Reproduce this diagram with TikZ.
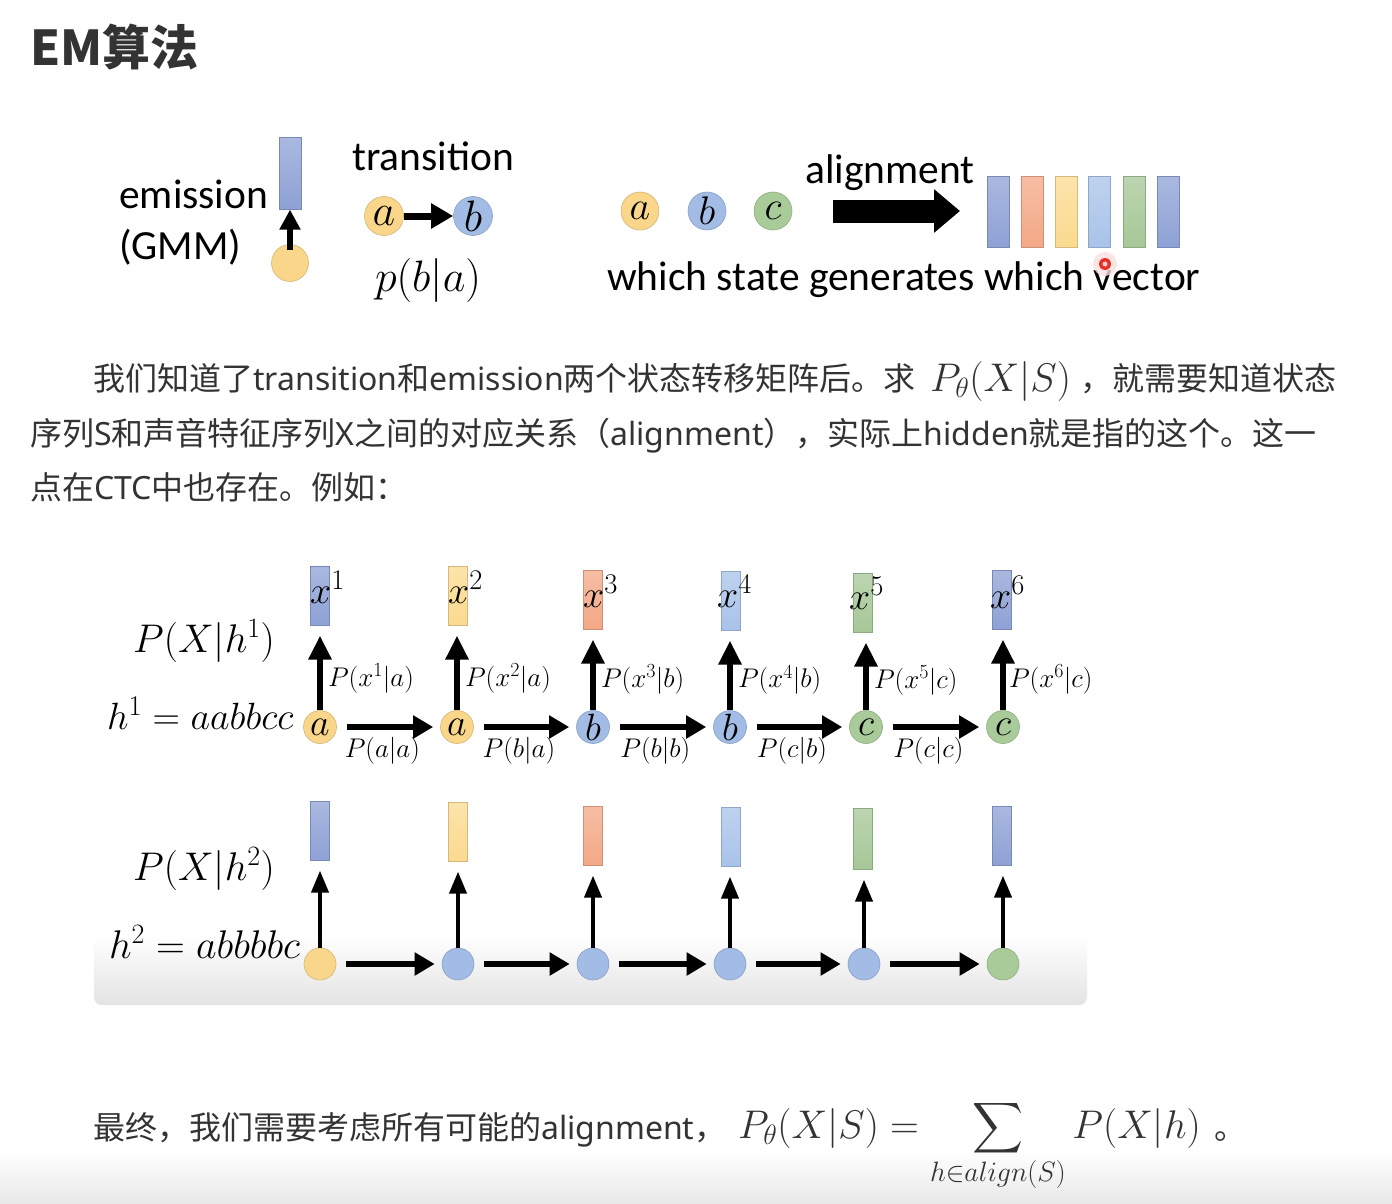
\RequirePackage{fix-cm}
\documentclass[tikz,border=0pt]{standalone}
\usepackage{amsmath}
\usepackage{graphicx}
\usepackage{fontspec}
\newfontfamily\cjk{Noto Sans CJK SC}
\newfontfamily\latf{Noto Sans}
\newfontfamily\figf{Carlito}
\usepackage{tikz}
\usetikzlibrary{arrows.meta,positioning}
\DeclareMathSizes{27}{27}{20}{15}
\DeclareMathSizes{38}{38}{28.5}{21}
\DeclareMathSizes{40}{40}{28}{20}
\DeclareMathSizes{44}{44}{33}{24}
\definecolor{txtgray}{HTML}{333333}
\definecolor{vblue}{HTML}{8EA1D5}
\definecolor{vsalmon}{HTML}{F3A886}
\definecolor{vyellow}{HTML}{FBDA8F}
\definecolor{vlblue}{HTML}{A8C3E9}
\definecolor{vgreen}{HTML}{A6C797}
\definecolor{syellow}{HTML}{F9D68A}
\definecolor{sblue}{HTML}{A2BCE5}
\definecolor{sgreen}{HTML}{A8CB99}
\definecolor{dotred}{HTML}{E8302A}
\newcommand{\bigsum}{\mathop{\vcenter{\hbox{\scalebox{1.42}{$\displaystyle\sum$}}}}\limits}

\begin{document}
\begin{tikzpicture}[
  x=1pt, y=-1pt,
  para/.style={anchor=base west, inner sep=0, text=txtgray, font=\cjk\fontsize{32}{38}\selectfont},
  figtxt/.style={anchor=base west, inner sep=0, font=\figf\fontsize{41.5}{48}\selectfont},
  lab/.style={anchor=base west, inner sep=0, font=\fontsize{40}{48}\selectfont},
  xlab/.style={anchor=base west, inner sep=0, font=\fontsize{38}{40}\selectfont},
  plab/.style={inner sep=2pt, font=\fontsize{27}{30}\selectfont},
  vec/.style={draw=#1!85!black, line width=0.6pt, top color=#1!75!white, bottom color=#1, minimum width=19pt, minimum height=59pt, inner sep=0, anchor=north},
  state/.style={circle, draw=#1!85!black, fill=#1, line width=0.6pt, minimum size=33pt, inner sep=0, font=\fontsize{38}{40}\selectfont},
  up/.style={line width=6pt, -{Triangle[length=24pt,width=22pt]}, shorten >=10pt},
  uptwo/.style={line width=4pt, -{Triangle[length=22pt,width=17pt]}, shorten >=10pt},
  rt/.style={line width=6pt, -{Triangle[length=20pt,width=22pt]}, shorten <=10pt, shorten >=7pt},
]
\path[use as bounding box, fill=white] (0,0) rectangle (1392,1204);
\shade[top color=white, bottom color=black!9] (0,1150) rectangle (1392,1204);

\node[anchor=base west, inner sep=0, text=txtgray, font=\cjk\bfseries\fontsize{48}{56}\selectfont] (title) at (30,66) {EM算法};

\node[figtxt] (emt) at (119,208) {emission};
\node[figtxt] (gmm) at (119,259) {(GMM)};
\node[vec=vblue, minimum width=22pt, minimum height=72pt] (emr) at (290,137) {};
\node[state=syellow, minimum size=37pt] (emc) at (290,263) {};
\draw[line width=6pt, -{Triangle[length=20pt,width=20pt]}, shorten <=-6pt] (emc.north) -- (emr.south);

\node[figtxt] (trt) at (352,170) {transition};
\node[state=syellow, minimum size=39pt, font=\fontsize{44}{48}\selectfont] (ta) at (384,216) {$a$};
\node[state=sblue, minimum size=39pt, font=\fontsize{44}{48}\selectfont] (tb) at (473,216) {$b$};
\draw[line width=7pt, -{Triangle[length=22pt,width=24pt]}] (ta.east) -- (tb.west);
\node[anchor=base, inner sep=0, font=\fontsize{44}{48}\selectfont] (pba) at (428,291) {$p(b|a)$};

\node[state=syellow, minimum size=38pt, font=\fontsize{40}{44}\selectfont] (sa) at (640,211) {$a$};
\node[state=sblue, minimum size=38pt, font=\fontsize{40}{44}\selectfont] (sb) at (707,211) {$b$};
\node[state=sgreen, minimum size=38pt, font=\fontsize{40}{44}\selectfont] (sc) at (773,211) {$c$};
\node[figtxt] (alt) at (805,183) {alignment};
\coordinate (alS) at (833,211);
\coordinate (alE) at (960,211);
\draw[line width=23pt, -{Triangle[length=26pt,width=42pt]}] (alS) -- (alE);
\node[vec=vblue, minimum width=22pt, minimum height=71pt] (v1) at (998.5,176) {};
\node[vec=vsalmon, minimum width=22pt, minimum height=71pt] (v2) at (1032,176) {};
\node[vec=vyellow, minimum width=22pt, minimum height=71pt] (v3) at (1066,176) {};
\node[vec=vlblue, minimum width=22pt, minimum height=71pt] (v4) at (1099.5,176) {};
\node[vec=vgreen, minimum width=22pt, minimum height=71pt] (v5) at (1134,176) {};
\node[vec=vblue, minimum width=22pt, minimum height=71pt] (v6) at (1168,176) {};
\node[figtxt] (wsg) at (607,290) {which state generates which vector};
\fill[dotred!15, opacity=.8] (1105,264) circle (12pt);
\fill[dotred] (1105,264) circle (6pt);
\fill[dotred!25] (1105,264) circle (2.5pt);

\node[para] (l1a) at (93,390) {我们知道了{\latf transition}和{\latf emission}两个状态转移矩阵后。求};
\node[lab, text=txtgray] (l1m) at (930,391) {$P_\theta(X|S)$};
\node[para] (l1b) at (1080,390) {，就需要知道状态};
\node[para] (l2) at (30,445) {序列{\latf S}和声音特征序列{\latf X}之间的对应关系（{\latf alignment}），实际上{\latf hidden}就是指的这个。这一};
\node[para] (l3) at (30,499) {点在{\latf CTC}中也存在。例如：};

\shade[top color=white, bottom color=black!11, rounded corners=8pt] (94,935) rectangle (1087,1005);

\node[lab] (ph1) at (133,652) {$P(X|h^1)$};
\node[lab, font=\fontsize{38}{44}\selectfont] (h1) at (107,729) {$h^1 = aabbcc$};
\node[vec=vblue] (x1) at (320,566) {};
\node[vec=vyellow] (x2) at (458,566) {};
\node[vec=vsalmon] (x3) at (593,570) {};
\node[vec=vlblue] (x4) at (731,571) {};
\node[vec=vgreen] (x5) at (863,573) {};
\node[vec=vblue] (x6) at (1002,570) {};
\node[xlab] (xl1) at (310,603) {$x^1$};
\node[xlab] (xl2) at (448,603) {$x^2$};
\node[xlab] (xl3) at (583,607) {$x^3$};
\node[xlab] (xl4) at (717,607) {$x^4$};
\node[xlab] (xl5) at (849,609) {$x^5$};
\node[xlab] (xl6) at (990,608) {$x^6$};
\node[state=syellow] (a1) at (320,727) {$a$};
\node[state=syellow] (a2) at (457,727) {$a$};
\node[state=sblue] (a3) at (593,727) {$b$};
\node[state=sblue] (a4) at (730,727) {$b$};
\node[state=sgreen] (a5) at (866,727) {$c$};
\node[state=sgreen] (a6) at (1003,727) {$c$};
\draw[up] (a1.north) -- node[plab, right=3pt, pos=.38] {$P(x^1|a)$} (a1.north |- x1.south);
\draw[up] (a2.north) -- node[plab, right=3pt, pos=.38] {$P(x^2|a)$} (a2.north |- x2.south);
\draw[up] (a3.north) -- node[plab, right=3pt, pos=.38] {$P(x^3|b)$} (a3.north |- x3.south);
\draw[up] (a4.north) -- node[plab, right=3pt, pos=.38] {$P(x^4|b)$} (a4.north |- x4.south);
\draw[up] (a5.north) -- node[plab, right=3pt, pos=.38] {$P(x^5|c)$} (a5.north |- x5.south);
\draw[up] (a6.north) -- node[plab, right=1pt, pos=.38] {$P(x^6|c)$} (a6.north |- x6.south);
\draw[rt] (a1.east) -- node[plab, below=5pt, pos=.44] {$P(a|a)$} (a2.west);
\draw[rt] (a2.east) -- node[plab, below=5pt, pos=.44] {$P(b|a)$} (a3.west);
\draw[rt] (a3.east) -- node[plab, below=5pt, pos=.44] {$P(b|b)$} (a4.west);
\draw[rt] (a4.east) -- node[plab, below=5pt, pos=.44] {$P(c|b)$} (a5.west);
\draw[rt] (a5.east) -- node[plab, below=5pt, pos=.44] {$P(c|c)$} (a6.west);

\node[lab] (ph2) at (133,880) {$P(X|h^2)$};
\node[lab] (h2) at (109,958) {$h^2 = abbbbc$};
\node[vec=vblue] (y1) at (320,801) {};
\node[vec=vyellow] (y2) at (458,802) {};
\node[vec=vsalmon] (y3) at (593,806) {};
\node[vec=vlblue] (y4) at (731,807) {};
\node[vec=vgreen, minimum height=61pt] (y5) at (863,808) {};
\node[vec=vblue] (y6) at (1002,806) {};
\node[state=syellow, minimum size=32pt] (b1) at (320,964) {};
\node[state=sblue, minimum size=32pt] (b2) at (458,964) {};
\node[state=sblue, minimum size=32pt] (b3) at (593,964) {};
\node[state=sblue, minimum size=32pt] (b4) at (730,964) {};
\node[state=sblue, minimum size=32pt] (b5) at (864,964) {};
\node[state=sgreen, minimum size=32pt] (b6) at (1003,964) {};
\draw[uptwo] (b1.north) -- (b1.north |- y1.south);
\draw[uptwo] (b2.north) -- (b2.north |- y2.south);
\draw[uptwo] (b3.north) -- (b3.north |- y3.south);
\draw[uptwo] (b4.north) -- (b4.north |- y4.south);
\draw[uptwo] (b5.north) -- (b5.north |- y5.south);
\draw[uptwo] (b6.north) -- (b6.north |- y6.south);
\draw[rt] (b1.east) -- (b2.west);
\draw[rt] (b2.east) -- (b3.west);
\draw[rt] (b3.east) -- (b4.west);
\draw[rt] (b4.east) -- (b5.west);
\draw[rt] (b5.east) -- (b6.west);

\node[para] (fin) at (93,1139) {最终，我们需要考虑所有可能的{\latf alignment}，};
\node[lab, text=txtgray] (finm) at (738,1138) {$P_\theta(X|S) = \bigsum_{h\in align(S)} P(X|h)$};
\node[para] (dot) at (1214,1139) {。};
\end{tikzpicture}
\end{document}
